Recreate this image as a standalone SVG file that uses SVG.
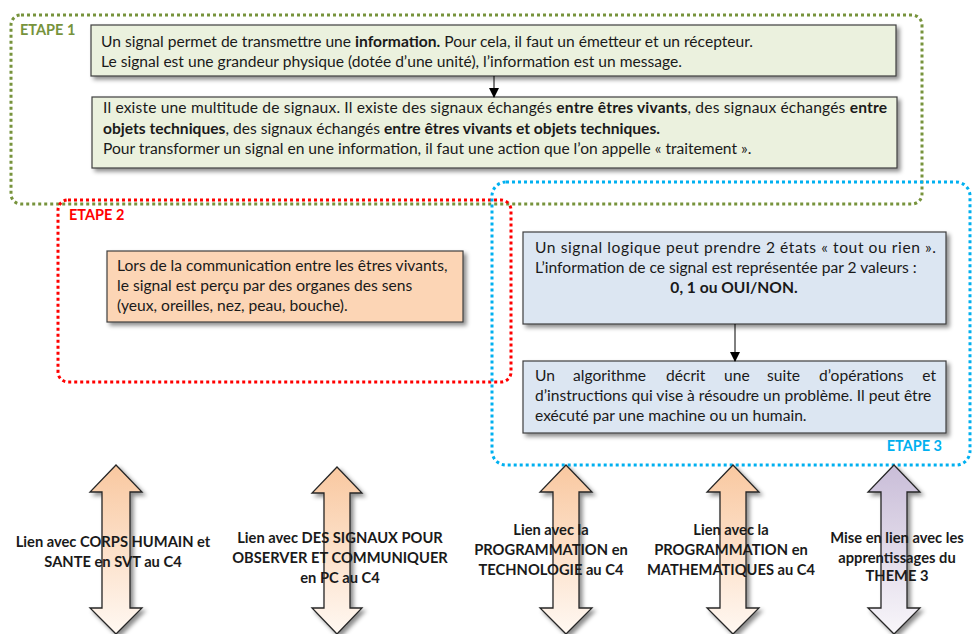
<svg xmlns="http://www.w3.org/2000/svg" width="972" height="634" viewBox="0 0 972 634">
<defs>
<style>
.t{font-family:Lato,"Liberation Sans",sans-serif;font-size:15.6px;fill:#1a1a1a}
.b{font-weight:bold}
.lbl{font-family:Lato,"Liberation Sans",sans-serif;font-size:14.7px;font-weight:bold;fill:#1a1a1a;text-anchor:middle}
.step{font-family:Lato,"Liberation Sans",sans-serif;font-size:14.5px;font-weight:bold}
.box{stroke:#3f3f3f;stroke-width:1.2;filter:url(#sh)}
.frame{fill:none;stroke-width:3;stroke-dasharray:3 3}
.conn{stroke:#000;stroke-width:1;fill:none;marker-end:url(#ah)}
.dbl{stroke:#262626;stroke-width:1.3;filter:url(#sh)}
.e{text-anchor:end}
</style>
<filter id="sh" x="-10%" y="-10%" width="130%" height="140%">
<feDropShadow dx="3" dy="3" stdDeviation="2" flood-color="#000" flood-opacity="0.45"/>
</filter>
<marker id="ah" markerWidth="10" markerHeight="12" refX="9" refY="5" orient="auto" markerUnits="userSpaceOnUse">
<path d="M0,0 L10,5 L0,10 z" fill="#000"/>
</marker>
<linearGradient id="go" x1="0" y1="0" x2="0" y2="1">
<stop offset="0" stop-color="#F9C8A0"/>
<stop offset="1" stop-color="#FFF8F2"/>
</linearGradient>
<linearGradient id="gp" x1="0" y1="0" x2="0" y2="1">
<stop offset="0" stop-color="#C9BDD8"/>
<stop offset="1" stop-color="#F8F6FA"/>
</linearGradient>
</defs>
<rect width="972" height="634" fill="#fff"/>

<g id="etape1">
<rect class="frame" x="11" y="15" width="911" height="189" rx="10" stroke="#77933C"/>
<text class="step" x="20" y="35" fill="#77933C">ETAPE 1</text>
</g>
<g id="etape2">
<rect class="frame" x="58" y="200" width="453" height="182" rx="10" stroke="#FF0000"/>
<text class="step" x="69" y="220" fill="#FF0000">ETAPE 2</text>
</g>
<g id="etape3">
<rect class="frame" x="492" y="182" width="478" height="283" rx="14" stroke="#00B0F0"/>
<text class="step" x="942" y="451" fill="#00B0F0" text-anchor="end">ETAPE 3</text>
</g>

<g id="box1">
<rect class="box" x="91" y="25" width="805" height="51" fill="#EBF1DE"/>
<text class="t" x="101" y="47">Un signal permet de transmettre une <tspan class="b">information.</tspan> Pour cela, il faut un émetteur et un récepteur.</text>
<text class="t" x="101" y="67">Le signal est une grandeur physique (dotée d’une unité), l’information est un message.</text>
</g>
<g id="box2">
<rect class="box" x="92" y="97" width="805" height="71" fill="#EBF1DE"/>
<text class="t" x="103" y="113" textLength="784" lengthAdjust="spacing">Il existe une multitude de signaux. Il existe des signaux échangés <tspan class="b">entre êtres vivants</tspan>, des signaux échangés <tspan class="b">entre</tspan></text>
<text class="t" x="103" y="134"><tspan class="b">objets techniques</tspan>, des signaux échangés <tspan class="b">entre êtres vivants et objets techniques.</tspan></text>
<text class="t" x="103" y="154">Pour transformer un signal en une information, il faut une action que l’on appelle « traitement ».</text>
</g>
<g id="box3">
<rect class="box" x="107" y="251" width="356" height="71" fill="#FCD5B5"/>
<text class="t" x="117" y="271">Lors de la communication entre les êtres vivants,</text>
<text class="t" x="117" y="291">le signal est perçu par des organes des sens</text>
<text class="t" x="117" y="311">(yeux, oreilles, nez, peau, bouche).</text>
</g>
<g id="box4">
<rect class="box" x="523" y="232" width="423" height="92" fill="#DCE6F2"/>
<text class="t" x="535" y="253" textLength="401" lengthAdjust="spacing">Un signal logique peut prendre  2 états « tout ou rien ».</text>
<text class="t" x="535" y="273">L’information de ce signal est représentée par 2 valeurs :</text>
<text class="t b" x="734" y="293" text-anchor="middle">0, 1 ou OUI/NON.</text>
</g>
<g id="box5">
<rect class="box" x="523" y="361" width="423" height="72" fill="#DCE6F2"/>
<text class="t" y="381"><tspan x="535">Un</tspan><tspan x="573">algorithme</tspan><tspan x="666">décrit</tspan><tspan x="724">une</tspan><tspan x="767">suite</tspan><tspan x="819">d’opérations</tspan></text>
<text class="t e" x="936" y="381">et</text>
<text class="t" x="535" y="401">d’instructions qui vise à résoudre un problème. Il peut être</text>
<text class="t" x="535" y="421">exécuté par une machine ou un humain.</text>
</g>

<g id="connectors">
<line class="conn" x1="494" y1="76" x2="494" y2="97"/>
<line class="conn" x1="735" y1="324" x2="735" y2="361"/>
</g>

<g id="arrow1">
<path class="dbl" fill="url(#go)" d="M116,465 L142,492 L130,492 L130,608 L142,608 L116,634 L90,608 L102,608 L102,492 L90,492 Z"/>
<text class="lbl" x="113" y="547">Lien avec CORPS HUMAIN et</text>
<text class="lbl" x="113" y="567">SANTE en SVT au C4</text>
</g>
<g id="arrow2">
<path class="dbl" fill="url(#go)" d="M337,467 L362,493 L350,493 L350,608 L362,608 L337,634 L312,608 L324,608 L324,493 L312,493 Z"/>
<text class="lbl" x="340" y="543">Lien avec DES SIGNAUX POUR</text>
<text class="lbl" x="340" y="563">OBSERVER ET COMMUNIQUER</text>
<text class="lbl" x="340" y="583">en PC au C4</text>
</g>
<g id="arrow3">
<path class="dbl" fill="url(#go)" d="M566,465 L592,492 L579,492 L579,608 L592,608 L566,634 L540,608 L553,608 L553,492 L540,492 Z"/>
<text class="lbl" x="551" y="535">Lien avec la</text>
<text class="lbl" x="551" y="555">PROGRAMMATION en</text>
<text class="lbl" x="551" y="575">TECHNOLOGIE au C4</text>
</g>
<g id="arrow4">
<path class="dbl" fill="url(#go)" d="M733,465 L759,492 L746,492 L746,608 L759,608 L733,634 L707,608 L720,608 L720,492 L707,492 Z"/>
<text class="lbl" x="731" y="535">Lien avec la</text>
<text class="lbl" x="731" y="555">PROGRAMMATION en</text>
<text class="lbl" x="731" y="575">MATHEMATIQUES au C4</text>
</g>
<g id="arrow5">
<path class="dbl" fill="url(#gp)" d="M894,465 L920,492 L907,492 L907,608 L920,608 L894,634 L868,608 L881,608 L881,492 L868,492 Z"/>
<text class="lbl" x="897" y="543">Mise en lien avec  les</text>
<text class="lbl" x="897" y="563">apprentissages du</text>
<text class="lbl" x="897" y="581">THEME 3</text>
</g>
</svg>
